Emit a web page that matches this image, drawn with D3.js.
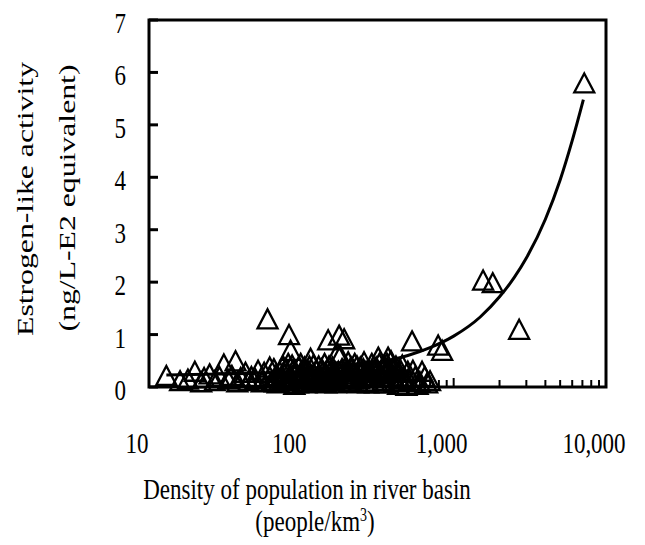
<!DOCTYPE html>
<html>
<head>
<meta charset="utf-8">
<script src="https://cdn.jsdelivr.net/npm/d3@7"></script>
<style>
  html, body { margin: 0; padding: 0; background: #fff; }
  svg text { font-family: "Liberation Serif", "Times New Roman", serif; fill: #000; }
</style>
</head>
<body>
<div id="chart"></div>
<script>
/* Estrogen-like activity vs density of population in river basin.
   Log x axis (10..10,000), linear y axis (0..7), open triangles + fit line. */

/* observed sites: density (people/km3) and activity (ng/L-E2 eq.) */
var density = [
  13, 16, 18, 20, 22, 23, 25, 27, 29, 31, 33, 35, 37, 38, 40,
  43, 45, 47, 50, 52, 55, 57, 60, 62, 64, 66, 68, 70, 72, 74, 76, 78, 80,
  82, 83, 85, 86, 88, 90, 92, 94, 96, 98, 100, 103, 106, 110, 113, 115, 118,
  121, 125, 128, 132, 136, 140, 144, 148, 150, 152, 158, 162, 166, 170, 172,
  177, 180, 185, 191, 195, 203, 208, 214, 220, 226, 232, 240, 248, 255, 262,
  270, 280, 290, 300, 310, 320, 330, 340, 350, 360, 371, 380, 395, 410, 425,
  440, 452, 470, 490, 510, 533, 560, 600, 646, 700, 791, 840,
  1560, 1806, 2690, 7200,
  62, 67, 75, 79, 84, 87, 91, 95, 99, 102, 105, 108, 112, 117, 120, 124,
  130, 134, 138, 142, 146, 155, 160, 164, 168, 175, 188, 198, 205, 212,
  218, 224, 230, 236, 244, 252, 258, 266, 275, 285, 295, 305, 315, 325,
  335, 345, 355, 365, 375, 388, 400, 418, 432, 460, 480, 500, 540, 580, 620, 670
];
var activity = [
  0.22, 0.12, 0.15, 0.30, 0.10, 0.18, 0.25, 0.12, 0.20, 0.44, 0.15, 0.22, 0.50, 0.10, 0.18,
  0.28, 0.12, 0.20, 0.15, 0.32, 0.10, 0.28, 1.30, 0.20, 0.12, 0.35, 0.22, 0.08, 0.30, 0.18, 0.40, 0.25, 0.12,
  0.45, 1.00, 0.70, 0.20, 0.32, 0.05, 0.25, 0.15, 0.38, 0.22, 0.30, 0.10, 0.28, 0.18, 0.40, 0.55, 0.12,
  0.25, 0.32, 0.15, 0.22, 0.35, 0.10, 0.28, 0.18, 0.90, 0.40, 0.25, 0.12, 0.30, 0.20, 0.65,
  0.99, 0.60, 0.35, 0.92, 0.15, 0.48, 0.25, 0.10, 0.32, 0.20, 0.40, 0.15, 0.28, 0.35, 0.10,
  0.22, 0.30, 0.45, 0.18, 0.38, 0.57, 0.25, 0.12, 0.42, 0.30, 0.57, 0.20, 0.35, 0.10, 0.28,
  0.15, 0.30, 0.20, 0.03, 0.12, 0.88, 0.20, 0.10, 0.20, 0.12, 0.80, 0.70,
  2.04, 1.99, 1.10, 5.80,
  0.38, 0.10, 0.15, 0.35, 0.12, 0.42, 0.30, 0.08, 0.45, 0.20, 0.38, 0.08, 0.30, 0.22, 0.42, 0.10,
  0.40, 0.18, 0.28, 0.45, 0.08, 0.15, 0.38, 0.22, 0.08, 0.30, 0.20, 0.30, 0.10, 0.38,
  0.15, 0.45, 0.25, 0.08, 0.38, 0.20, 0.48, 0.30, 0.08, 0.20, 0.32, 0.08, 0.28, 0.45,
  0.20, 0.35, 0.08, 0.45, 0.32, 0.50, 0.18, 0.40, 0.05, 0.42, 0.15, 0.30, 0.32, 0.05, 0.30, 0.08
];

/* fitted trend */
var fitX = [13, 30, 60, 100, 200, 300, 500, 700, 1000, 1500, 2000, 2500, 3000, 4000, 5000, 6000, 7100];
var fitY = [0.23, 0.25, 0.27, 0.30, 0.38, 0.45, 0.60, 0.75, 0.97, 1.34, 1.72, 2.09, 2.46, 3.20, 3.95, 4.70, 5.48];

/* axis ticks */
var xMajor = [10, 100, 1000, 10000];
var xLabels = ['10', '100', '1,000', '10,000'];
var yTicks = [0, 1, 2, 3, 4, 5, 6, 7];

(function () {
  'use strict';
  var W = 645, H = 545;
  var left = 149, right = 606, top = 20, bottom = 387;
  var fs = 23, sy = 1.28; /* the scanned figure is stretched vertically */

  var svg = d3.select('#chart').append('svg')
    .attr('width', W).attr('height', H);

  var x = d3.scaleLog().domain([10, 10000]).range([left, right]);
  var y = d3.scaleLinear().domain([0, 7]).range([bottom, top]);

  /* minor log ticks (2..9 of each decade) */
  var minor = x.ticks().filter(function (v) { return xMajor.indexOf(v) < 0; });

  var g = svg.append('g');

  /* x ticks, pointing inward */
  g.selectAll('line.xminor').data(minor).enter().append('line')
    .attr('class', 'xminor')
    .attr('x1', function (d) { return x(d); }).attr('x2', function (d) { return x(d); })
    .attr('y1', bottom).attr('y2', bottom - 7)
    .attr('stroke', '#000').attr('stroke-width', 2);
  g.selectAll('line.xmajor').data(xMajor).enter().append('line')
    .attr('class', 'xmajor')
    .attr('x1', function (d) { return x(d); }).attr('x2', function (d) { return x(d); })
    .attr('y1', bottom).attr('y2', bottom - 9)
    .attr('stroke', '#000').attr('stroke-width', 2);

  /* y ticks, pointing inward */
  g.selectAll('line.ytick').data(yTicks).enter().append('line')
    .attr('class', 'ytick')
    .attr('x1', left).attr('x2', left + 9)
    .attr('y1', function (d) { return y(d); }).attr('y2', function (d) { return y(d); })
    .attr('stroke', '#000').attr('stroke-width', 3);

  /* frame */
  g.append('rect')
    .attr('x', left).attr('y', top)
    .attr('width', right - left).attr('height', bottom - top)
    .attr('fill', 'none').attr('stroke', '#000').attr('stroke-width', 3);

  /* tick labels */
  g.selectAll('text.xl').data(xMajor).enter().append('text')
    .attr('class', 'xl')
    .attr('transform', function (d) { return 'translate(' + (x(d) - 12) + ',453) scale(1,' + sy + ')'; })
    .attr('text-anchor', 'middle')
    .style('font-size', fs + 'px')
    .text(function (d, i) { return xLabels[i]; });

  g.selectAll('text.yl').data(yTicks).enter().append('text')
    .attr('class', 'yl')
    .attr('transform', function (d) { return 'translate(126,' + (y(d) + 13) + ') scale(1,' + sy + ')'; })
    .attr('text-anchor', 'end')
    .style('font-size', fs + 'px')
    .text(function (d) { return d; });

  /* axis titles */
  g.append('text')
    .attr('transform', 'translate(33,199) rotate(-90) scale(1.38,1)')
    .attr('text-anchor', 'middle')
    .style('font-size', fs + 'px')
    .text('Estrogen-like activity');
  g.append('text')
    .attr('transform', 'translate(75,198) rotate(-90) scale(1.38,1)')
    .attr('text-anchor', 'middle')
    .style('font-size', fs + 'px')
    .text('(ng/L-E2 equivalent)');

  g.append('text')
    .attr('transform', 'translate(307,499) scale(1,' + sy + ')')
    .attr('text-anchor', 'middle')
    .style('font-size', fs + 'px')
    .text('Density of population in river basin');
  var xt2 = g.append('text')
    .attr('transform', 'translate(315,531) scale(1,' + sy + ')')
    .attr('text-anchor', 'middle')
    .style('font-size', fs + 'px');
  xt2.append('tspan').text('(people/km');
  xt2.append('tspan').attr('dy', -8).style('font-size', '14px').text('3');
  xt2.append('tspan').attr('dy', 8).text(')');

  /* data: open triangles */
  var tw = 20, th = 19;
  var tri = 'M0,' + (-th / 2) + 'L' + (tw / 2) + ',' + (th / 2) + 'L' + (-tw / 2) + ',' + (th / 2) + 'Z';
  g.selectAll('path.pt').data(density).enter().append('path')
    .attr('class', 'pt')
    .attr('transform', function (d, i) {
      return 'translate(' + x(d) + ',' + y(activity[i]) + ')';
    })
    .attr('d', tri)
    .attr('fill', 'none').attr('stroke', '#000').attr('stroke-width', 2.3);

  /* fit line */
  var line = d3.line()
    .x(function (d) { return x(d); })
    .y(function (d, i) { return y(fitY[i]); })
    .curve(d3.curveMonotoneX);
  g.append('path')
    .attr('d', line(fitX))
    .attr('fill', 'none').attr('stroke', '#000').attr('stroke-width', 3);
})();
</script>
</body>
</html>
